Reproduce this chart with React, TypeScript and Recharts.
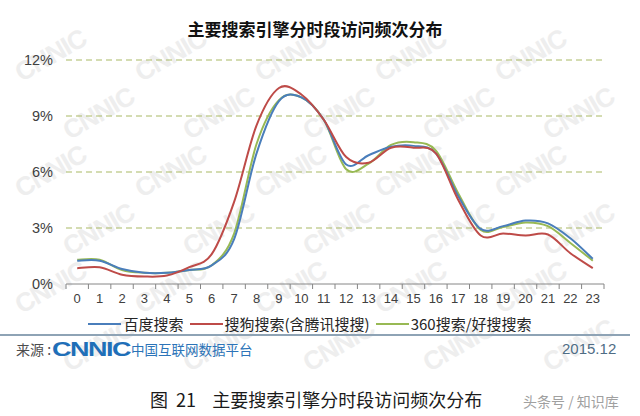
import React from "react";
import { LineChart, Line, XAxis, YAxis, CartesianGrid } from "recharts";

const hours = [0, 1, 2, 3, 4, 5, 6, 7, 8, 9, 10, 11, 12, 13, 14, 15, 16, 17, 18, 19, 20, 21, 22, 23];
const baidu = [1.25, 1.25, 0.8, 0.6, 0.6, 0.75, 1.0, 2.4, 7.0, 9.8, 10.0, 8.8, 6.4, 6.9, 7.35, 7.4, 7.0, 4.7, 2.95, 3.1, 3.4, 3.25, 2.45, 1.35];
const sogou = [0.85, 0.9, 0.5, 0.4, 0.45, 0.9, 1.6, 4.4, 8.5, 10.5, 10.15, 8.8, 6.8, 6.5, 7.3, 7.3, 7.0, 4.5, 2.6, 2.7, 2.6, 2.65, 1.65, 0.85];
const so360 = [1.3, 1.3, 0.75, 0.6, 0.6, 0.75, 1.0, 2.7, 7.5, 9.85, 10.0, 8.8, 6.15, 6.45, 7.45, 7.6, 7.15, 4.85, 2.9, 3.05, 3.3, 3.1, 2.2, 1.25];
const yTicks = [0, 3, 6, 9, 12];

const seriesNames = ["百度搜索", "搜狗搜索(含腾讯搜搜)", "360搜索/好搜搜索"];
const COLORS = ["#4a7ebb", "#be4b48", "#98b954"];

const data = hours.map((h, i) => ({ hour: h, baidu: baidu[i], sogou: sogou[i], so360: so360[i] }));

const W = 640;
const PLOT_L = 66;
const PLOT_R = 604;
const STEP = (PLOT_R - PLOT_L) / 24;

// Excel-style smoothed line (Catmull-Rom through the points)
const smooth = (context: any) => {
  let pts: number[][] = [];
  return {
    areaStart() {},
    areaEnd() {},
    lineStart() { pts = []; },
    point(x: number, y: number) { pts.push([x, y]); },
    lineEnd() {
      if (!pts.length) return;
      context.moveTo(pts[0][0], pts[0][1]);
      for (let i = 0; i < pts.length - 1; i++) {
        const p0 = pts[i - 1] || pts[i];
        const p1 = pts[i];
        const p2 = pts[i + 1];
        const p3 = pts[i + 2] || p2;
        const t = 1 / 6;
        context.bezierCurveTo(
          p1[0] + (p2[0] - p0[0]) * t, p1[1] + (p2[1] - p0[1]) * t,
          p2[0] - (p3[0] - p1[0]) * t, p2[1] - (p3[1] - p1[1]) * t,
          p2[0], p2[1]
        );
      }
    },
  };
};

const HourTick = (props: any) => {
  const { x, y, payload, index } = props;
  const half = STEP / 2;
  return (
    <g>
      <line x1={x - half} x2={x - half} y1={y} y2={y + 5} stroke="#868686" />
      {index === hours.length - 1 && <line x1={x + half} x2={x + half} y1={y} y2={y + 5} stroke="#868686" />}
      <text x={x} y={y + 19} textAnchor="middle" fill="#404040" fontSize={13} fontFamily="Liberation Sans, Arial">
        {payload.value}
      </text>
    </g>
  );
};

const marks: [number, number][] = [];
for (let r = 0; r < 6; r++) {
  for (let c = 0; c < 5; c++) {
    marks.push([12 + c * 120 + (r % 2) * 48, 40 + r * 58]);
  }
}

const App: React.FC = () => (
  <div style={{ position: "absolute", left: 0, top: 0, width: W, height: 416, background: "#fff", overflow: "hidden" }}>
    {marks.map(([x, y], i) => (
      <div key={i} style={{ position: "absolute", left: x, top: y, transform: "rotate(-30deg)", color: "#eeeeee", fontFamily: "Liberation Sans, Arial", fontWeight: 700, fontSize: 26, letterSpacing: -1 }}>
        CNNIC
      </div>
    ))}
    <div style={{ position: "absolute", left: 0, top: 16, width: W - 10, textAlign: "center", fontFamily: "'Noto Sans CJK SC'", fontWeight: 700, fontSize: 17, color: "#111" }}>
      主要搜索引擎分时段访问频次分布
    </div>
    <div style={{ position: "absolute", left: 0, top: 0 }}>
      <LineChart width={W} height={416} data={data} margin={{ top: 60, right: W - PLOT_R, bottom: 102, left: 0 }}>
        <CartesianGrid vertical={false} horizontal stroke="#a9b964" strokeDasharray="6 4" horizontalValues={[3, 6, 9, 12]} />
        <XAxis
          dataKey="hour"
          type="number"
          domain={[-0.5, 23.5]}
          ticks={hours}
          interval={0}
          tickLine={false}
          tickSize={0}
          tickMargin={0}
          height={30}
          stroke="#868686"
          tick={<HourTick />}
        />
        <YAxis
          domain={[0, 12]}
          ticks={yTicks}
          width={PLOT_L}
          axisLine={false}
          tickLine={false}
          tickSize={0}
          tickMargin={13}
          tickFormatter={(v: number) => `${v}%`}
          tick={{ fill: "#404040", fontSize: 14.5, fontFamily: "Liberation Sans, Arial" }}
        />
        <Line type={smooth as any} dataKey="so360" stroke={COLORS[2]} strokeWidth={2} dot={false} isAnimationActive={false} />
        <Line type={smooth as any} dataKey="baidu" stroke={COLORS[0]} strokeWidth={2} dot={false} isAnimationActive={false} />
        <Line type={smooth as any} dataKey="sogou" stroke={COLORS[1]} strokeWidth={2} dot={false} isAnimationActive={false} />
      </LineChart>
    </div>
    <div style={{ position: "absolute", left: 0, top: 313, width: W - 14, display: "flex", justifyContent: "center", alignItems: "center", fontFamily: "'Noto Sans CJK SC'", fontSize: 15, color: "#262626" }}>
      {seriesNames.map((n, i) => (
        <span key={n} style={{ display: "flex", alignItems: "center", marginRight: 6 }}>
          <span style={{ display: "inline-block", width: 33, height: 2, background: COLORS[i], marginRight: 2 }} />
          {n}
        </span>
      ))}
    </div>
    <div style={{ position: "absolute", left: 0, top: 334, width: 630, height: 2, background: "#8ea3b5" }} />
    <div style={{ position: "absolute", left: 16, top: 339, display: "flex", alignItems: "center", fontFamily: "'Noto Sans CJK SC'", fontSize: 13.5 }}>
      <span style={{ color: "#4d4d4d", fontSize: 14 }}>来源 :</span>
      <span style={{ display: "inline-block", color: "#1f6fb8", fontFamily: "Liberation Sans, Arial", fontWeight: 900, fontSize: 27, letterSpacing: -1.5, margin: "0 1px 0 1px", lineHeight: "20px", transform: "scaleY(0.78)" }}>CNNIC</span>
      <span style={{ color: "#2c74b8" }}>中国互联网数据平台</span>
    </div>
    <div style={{ position: "absolute", left: 562, top: 340, fontFamily: "'Liberation Sans Narrow', 'Liberation Sans'", fontSize: 15, color: "#4f6d85" }}>
      2015.12
    </div>
    <div style={{ position: "absolute", left: 150, top: 386, fontFamily: "'Noto Sans CJK SC'", fontSize: 18, color: "#1a1a1a", whiteSpace: "pre" }}>
      {"图  21    主要搜索引擎分时段访问频次分布"}
    </div>
    <div style={{ position: "absolute", left: 523, top: 391, fontFamily: "'Noto Sans CJK SC'", fontSize: 14, color: "#a0a0a0", whiteSpace: "pre" }}>
      {"头条号 / 知识库"}
    </div>
  </div>
);

export default App;
